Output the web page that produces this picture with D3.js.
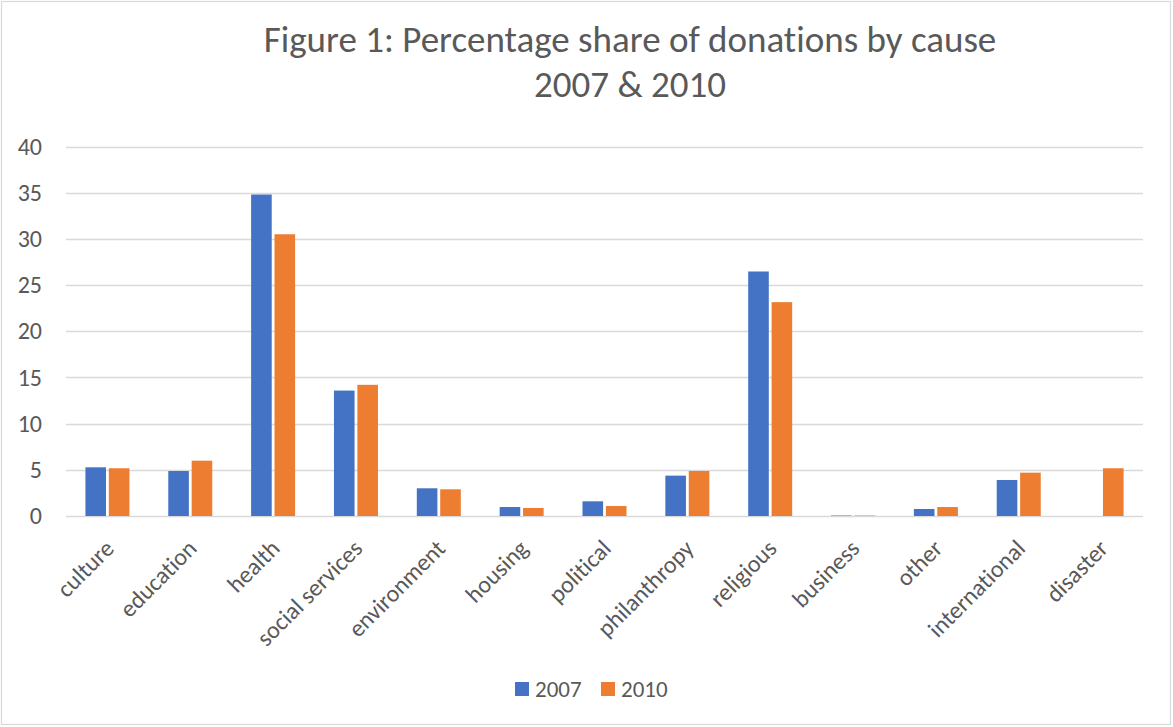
<!DOCTYPE html>
<html>
<head>
<meta charset="utf-8">
<script src="https://cdn.jsdelivr.net/npm/d3@7"></script>
<style>
  html, body { margin: 0; padding: 0; background: #fff; }
  svg { display: block; }
  text { font-family: Carlito, Calibri, Lato, sans-serif; fill: #595959; font-variant-ligatures: none; }
</style>
</head>
<body>
<svg id="chart" width="1173" height="727"></svg>
<script>
const categories = ["culture","education","health","social services","environment","housing","political","philanthropy","religious","business","other","international","disaster"];
const series = ["2007","2010"];
const values2007 = [5.27, 4.87, 34.8, 13.58, 3.0, 0.97, 1.59, 4.37, 26.47, 0.05, 0.76, 3.9, 0];
const values2010 = [5.17, 5.99, 30.5, 14.2, 2.89, 0.87, 1.08, 4.87, 23.15, 0.05, 0.97, 4.69, 5.17];
const yTicks = [0, 5, 10, 15, 20, 25, 30, 35, 40];
const titleLines = ["Figure 1: Percentage share of donations by cause", "2007 & 2010"];
const colors = ["#4472C4", "#ED7D31"];

const svg = d3.select("#chart");
const W = 1173, H = 727;
const plot = { left: 66, right: 1143, top: 146.5, bottom: 516 };
const FONT = "Carlito, Calibri, Lato, sans-serif";

svg.append("rect").attr("x", 1.5).attr("y", 1.5).attr("width", W - 4).attr("height", H - 4)
  .attr("fill", "#fff").attr("stroke", "#D9D9D9").attr("stroke-width", 1.2);

// title
svg.append("g").selectAll("text").data(titleLines).enter().append("text")
  .attr("x", 630).attr("y", (d, i) => i === 0 ? 52 : 97)
  .attr("text-anchor", "middle")
  .style("font-size", "37px")
  .text(d => d);

const x0 = d3.scaleBand().domain(categories).range([plot.left, plot.right]).padding(0);
const y = d3.scaleLinear().domain([0, 40]).range([plot.bottom, plot.top]);
const groupW = 44;
const x1 = d3.scaleBand().domain(series).range([0, groupW]).paddingInner(0.12);

// gridlines
svg.append("g").selectAll("line").data(yTicks).enter().append("line")
  .attr("x1", plot.left).attr("x2", plot.right)
  .attr("y1", d => Math.round(y(d)) + 0.5).attr("y2", d => Math.round(y(d)) + 0.5)
  .attr("stroke", "#D9D9D9").attr("stroke-width", 1.3);

// y axis labels
const yAxis = d3.axisLeft(y).tickValues(yTicks).tickSize(0).tickPadding(0);
const yg = svg.append("g").attr("transform", `translate(${plot.left - 24},0)`).call(yAxis);
yg.select(".domain").remove();
yg.selectAll("text").style("font-size", "24px").attr("fill", "#595959").style("font-family", FONT);

// bars
const data = categories.map((c, i) => ({ cat: c, vals: [values2007[i], values2010[i]] }));
const groups = svg.append("g").selectAll("g").data(data).enter().append("g")
  .attr("transform", d => `translate(${x0(d.cat) + x0.bandwidth() / 2 - groupW / 2},0)`);
groups.selectAll("rect").data(d => d.vals.map((v, j) => ({ s: series[j], v, j })))
  .enter().append("rect")
  .attr("x", d => x1(d.s))
  .attr("width", x1.bandwidth())
  .attr("y", d => y(d.v))
  .attr("height", d => plot.bottom - y(d.v))
  .attr("fill", d => colors[d.j]);

// x axis labels
const xAxis = d3.axisBottom(x0).tickSize(0).tickPadding(0);
const xg = svg.append("g").attr("transform", `translate(0,${plot.bottom})`).call(xAxis);
xg.select(".domain").remove();
xg.selectAll("text")
  .style("font-size", "24px").attr("fill", "#595959").style("font-family", FONT)
  .attr("text-anchor", "end")
  .attr("dy", "0.35em")
  .attr("transform", "translate(2,28) rotate(-45)");

// legend
const legend = svg.append("g").selectAll("g").data(series).enter().append("g")
  .attr("transform", (d, i) => `translate(${515 + i * 86},682)`);
legend.append("rect").attr("width", 14).attr("height", 14).attr("fill", (d, i) => colors[i]);
legend.append("text").attr("x", 20).attr("y", 15).style("font-size", "23px").text(d => d);
</script>
</body>
</html>
